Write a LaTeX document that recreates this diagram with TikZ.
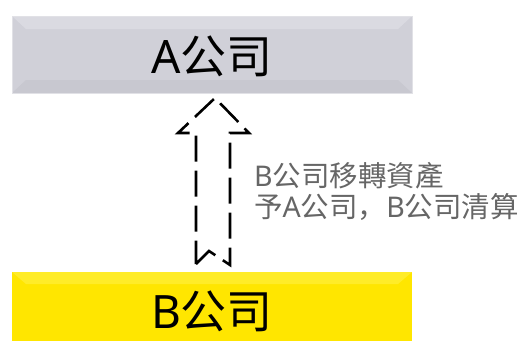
\documentclass[tikz,border=0pt]{standalone}
\usepackage{fontspec}
\setmainfont{Noto Sans CJK SC}
\newfontfamily\latinfont{Noto Sans}
\begin{document}
\begin{tikzpicture}[x=1pt,y=-1pt,
  boxtext/.style={font=\fontsize{46}{46}\selectfont, text=black},
  labeltext/.style={font=\fontsize{28.5}{31.5}\selectfont, text=black!60, align=left, anchor=north west, inner sep=0pt},
  dasharrow/.style={draw=black, line width=2.6pt, dash pattern=on 26pt off 9pt, line join=miter}]
\useasboundingbox (0,0) rectangle (528,341);
% A box
\fill[fill={rgb,255:red,208;green,208;blue,216}] (12,16) rectangle (412,93);
\fill[fill={rgb,255:red,218;green,218;blue,225}] (12,16) -- (412,16) -- (398,29) -- (26,29) -- cycle;
\fill[fill={rgb,255:red,200;green,200;blue,208}] (12,93) -- (412,93) -- (398,80) -- (26,80) -- cycle;
\draw[draw={rgb,255:red,225;green,225;blue,230}, line width=0.8pt] (12,16) rectangle (412,93);
\node[boxtext] (A) at (212,56) {{\latinfont A}公司};
% B box
\fill[fill={rgb,255:red,255;green,230;blue,0}] (12,272) rectangle (412,341);
\fill[fill={rgb,255:red,255;green,236;blue,40}] (12,272) -- (412,272) -- (398,284) -- (26,284) -- cycle;
\node[boxtext] (B) at (212,311) {{\latinfont B}公司};
% arrow
\coordinate (tip) at (215,98);
\draw[dasharrow] (196,264) -- (209,251) -- (230,265) -- (230,133) -- (249,133) -- (tip) -- (178,133) -- (196,133) -- cycle;
% label
\node[labeltext] (L) at (254,162) {{\latinfont B}公司移轉資產\\予{\latinfont A}公司，{\latinfont B}公司清算};
\end{tikzpicture}
\end{document}
